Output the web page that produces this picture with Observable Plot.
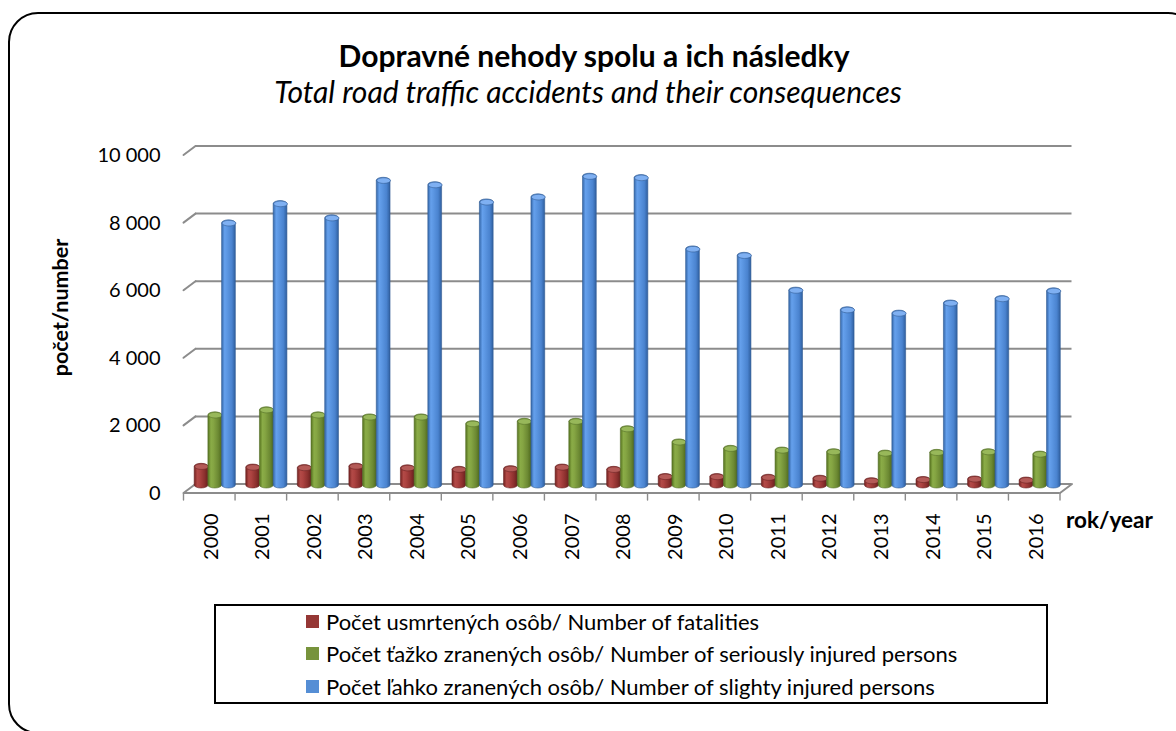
<!DOCTYPE html>
<html>
<head>
<meta charset="utf-8">
<script src="https://cdn.jsdelivr.net/npm/d3@7"></script>
<script src="https://cdn.jsdelivr.net/npm/@observablehq/plot@0.6"></script>
<style>
html,body{margin:0;padding:0;background:#fff;}
body{width:1176px;height:731px;overflow:hidden;position:relative;font-family:Lato,"Open Sans",sans-serif;color:#000;}
#frame{position:absolute;left:8px;top:12px;width:1190px;height:722px;border:2.6px solid #000;border-radius:30px;box-sizing:border-box;}
#chart{position:absolute;left:0;top:0;}
#title{position:absolute;left:0;top:37px;width:1188px;text-align:center;font-weight:700;font-size:30px;line-height:36px;z-index:2;}
#subtitle{position:absolute;left:0;top:73px;width:1176px;text-align:center;font-style:italic;font-size:30px;line-height:36px;z-index:2;}
#legend{position:absolute;left:214px;top:604px;width:834px;height:100px;border:2px solid #000;box-sizing:border-box;background:#fff;}
.lrow{position:absolute;left:90px;height:30px;display:flex;align-items:center;font-size:22px;white-space:nowrap;}
.lsw{width:13px;height:13px;margin-right:7px;flex:none;}
</style>
</head>
<body>
<div id="frame"></div>
<div id="title"></div>
<div id="subtitle"></div>
<div id="chart"></div>
<div id="legend"></div>
<script>
// ---- data ----
const years = [2000, 2001, 2002, 2003, 2004, 2005, 2006, 2007, 2008, 2009, 2010, 2011, 2012, 2013, 2014, 2015, 2016];
const fatalities = [647, 625, 610, 653, 603, 560, 579, 627, 558, 347, 345, 324, 296, 223, 259, 274, 242];
const seriouslyInjured = [2170, 2320, 2170, 2110, 2110, 1910, 1980, 1980, 1760, 1370, 1180, 1130, 1080, 1040, 1060, 1080, 1010];
const slightlyInjured = [7850, 8420, 8000, 9110, 8980, 8470, 8620, 9230, 9190, 7080, 6890, 5860, 5280, 5180, 5480, 5610, 5840];
const yTicks = [0, 2000, 4000, 6000, 8000, 10000];
const seriesLabels = [
  "Počet usmrtených osôb/ Number of fatalities",
  "Počet ťažko zranených osôb/ Number of seriously injured persons",
  "Počet ľahko zranených osôb/ Number of slighty injured persons"
];
const seriesColors = ["#953735", "#77933C", "#558ED5"];
const titleText = "Dopravné nehody spolu a ich následky";
const subtitleText = "Total road traffic accidents and their consequences";
const yLabel = "počet/number";
const xLabel = "rok/year";

// ---- build table ----
const rows = years.map((year, i) => ({year, fatal: fatalities[i], serious: seriouslyInjured[i], slight: slightlyInjured[i]}));
const boundaries = years.map(y => y - 0.5).concat([years[years.length - 1] + 0.5]);

const series = [
  {key: "fatal", grad: "gRed", cap: "#b45a57", edge: "#6a2423", inL: 5.2, inR: 32.6, dx: -13.7},
  {key: "serious", grad: "gGreen", cap: "#98b85a", edge: "#55702a", inL: 18.9, inR: 18.9, dx: 0},
  {key: "slight", grad: "gBlue", cap: "#7fb0f2", edge: "#325d94", inL: 32.6, inR: 5.2, dx: 13.7}
];

const grid = "#8c8c8c";
const line = {draw(ctx, l) { ctx.moveTo(0, 0); ctx.lineTo(0, -l); }};
const ellipse = {draw(ctx) {
  const a = 6.85, b = 2.8, k = 0.5523;
  ctx.moveTo(a, 0);
  ctx.bezierCurveTo(a, b * k, a * k, b, 0, b);
  ctx.bezierCurveTo(-a * k, b, -a, b * k, -a, 0);
  ctx.bezierCurveTo(-a, -b * k, -a * k, -b, 0, -b);
  ctx.bezierCurveTo(a * k, -b, a, -b * k, a, 0);
  ctx.closePath();
}};
const fmt = d => d3.format(",")(d).replace(/,/g, " ");

const marks = [
  Plot.ruleY(yTicks, {stroke: grid, strokeWidth: 2, dx: 6, dy: -4.5}),
  Plot.vector(yTicks, {x: boundaries[0], y: d => d, length: 15, rotate: 53.13, anchor: "middle", shape: line, stroke: grid, strokeWidth: 2}),
  Plot.ruleY([0], {stroke: grid, strokeWidth: 2, dx: -6, dy: 4.5}),
  Plot.vector([0], {x: boundaries[boundaries.length - 1], y: d => d, length: 15, rotate: 53.13, anchor: "middle", shape: line, stroke: grid, strokeWidth: 2}),
  Plot.vector(boundaries, {x: d => d, y: 0, dx: -6, dy: 4.5, length: 7, rotate: 180, anchor: "start", shape: line, stroke: grid, strokeWidth: 1.4})
];
for (const s of series) {
  marks.push(Plot.rectY(rows, {x1: d => d.year - 0.5, x2: d => d.year + 0.5, y1: 0, y2: s.key,
    insetLeft: s.inL, insetRight: s.inR, insetTop: -2.8, rx: 6.85, ry: 3, fill: `url(#${s.grad})`, stroke: s.edge, strokeWidth: 0.6}));
  marks.push(Plot.dot(rows, {x: "year", y: s.key, dx: s.dx, symbol: ellipse, r: 5, fill: s.cap, stroke: s.edge, strokeWidth: 0.6}));
}
marks.push(
  Plot.text(yTicks, {x: boundaries[0], y: d => d, text: fmt, textAnchor: "end", dx: -29, dy: 5, fontSize: 20, fill: "#000"}),
  Plot.text(years, {x: d => d, y: 0, text: d => String(d), rotate: -90, textAnchor: "end", lineAnchor: "middle", dx: -4, dy: 25, fontSize: 20, fill: "#000"}),
  Plot.text([xLabel], {frameAnchor: "bottom-right", textAnchor: "start", lineAnchor: "middle", dx: 0, dy: 32, fontSize: 22.5, fontWeight: "bold", fill: "#000"}),
  Plot.text([yLabel], {frameAnchor: "left", rotate: -90, textAnchor: "middle", lineAnchor: "middle", dx: -128, dy: -12, fontSize: 21.5, fontWeight: "bold", fill: "#000"})
);

const chart = Plot.plot({
  width: 1176, height: 590,
  marginLeft: 189, marginRight: 110.5, marginTop: 150, marginBottom: 102,
  x: {domain: [boundaries[0], boundaries[boundaries.length - 1]], axis: null},
  y: {domain: [yTicks[0], yTicks[yTicks.length - 1]], axis: null},
  style: {fontFamily: "Lato, 'Open Sans', sans-serif", background: "transparent", overflow: "visible"},
  marks
});

const ns = "http://www.w3.org/2000/svg";
const defs = document.createElementNS(ns, "defs");
defs.innerHTML = `
<linearGradient id="gRed" x1="0" x2="1" y1="0" y2="0">
  <stop offset="0" stop-color="#73211f"/><stop offset="0.22" stop-color="#b24a47"/><stop offset="0.4" stop-color="#ad4341"/><stop offset="0.75" stop-color="#8c302e"/><stop offset="1" stop-color="#68201e"/>
</linearGradient>
<linearGradient id="gGreen" x1="0" x2="1" y1="0" y2="0">
  <stop offset="0" stop-color="#56721f"/><stop offset="0.22" stop-color="#8aac47"/><stop offset="0.4" stop-color="#85a543"/><stop offset="0.75" stop-color="#6c8933"/><stop offset="1" stop-color="#506a1d"/>
</linearGradient>
<linearGradient id="gBlue" x1="0" x2="1" y1="0" y2="0">
  <stop offset="0" stop-color="#3467a9"/><stop offset="0.22" stop-color="#65a0ec"/><stop offset="0.4" stop-color="#5c97e3"/><stop offset="0.75" stop-color="#4a83cf"/><stop offset="1" stop-color="#2f5f9f"/>
</linearGradient>`;
chart.insertBefore(defs, chart.firstChild);
document.getElementById("chart").appendChild(chart);

document.getElementById("title").textContent = titleText;
document.getElementById("subtitle").textContent = subtitleText;

const legend = document.getElementById("legend");
const rowTops = [0, 32, 65];
seriesLabels.forEach((lab, i) => {
  const r = document.createElement("div");
  r.className = "lrow";
  r.style.top = rowTops[i] + "px";
  const sw = document.createElement("span");
  sw.className = "lsw";
  sw.style.background = seriesColors[i];
  const t = document.createElement("span");
  t.textContent = lab;
  r.appendChild(sw); r.appendChild(t);
  legend.appendChild(r);
});
</script>
</body>
</html>
